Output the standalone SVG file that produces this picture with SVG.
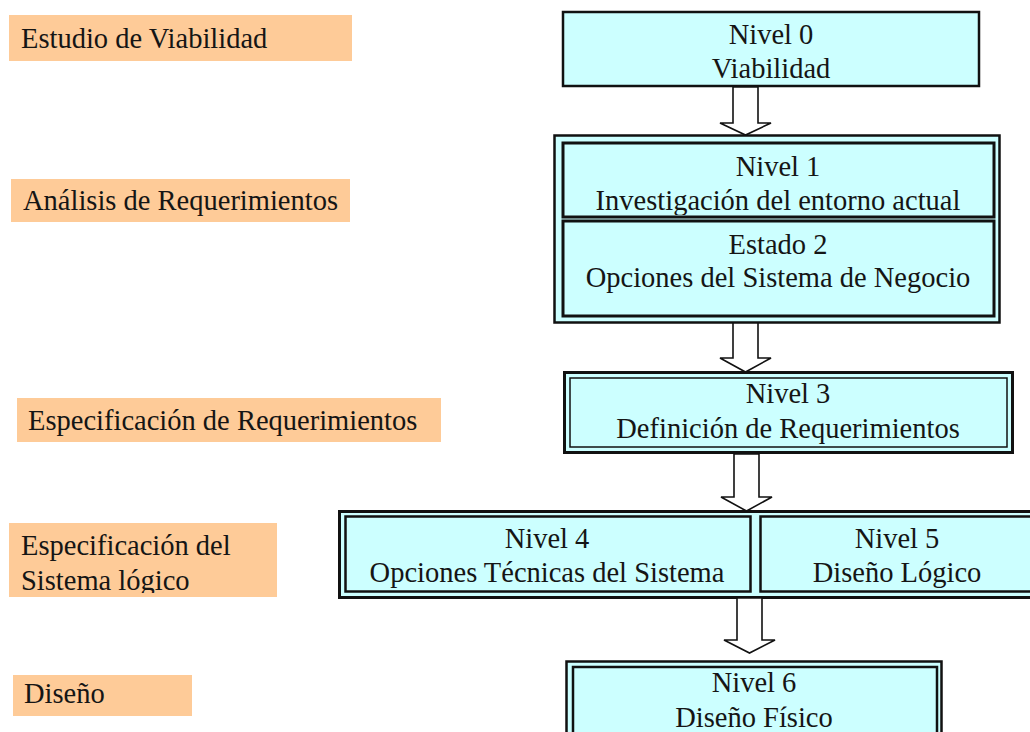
<svg xmlns="http://www.w3.org/2000/svg" width="1030" height="732" viewBox="0 0 1030 732">
<style>
.lbl{fill:#FECB98}
.t{font-family:"Liberation Serif","Times New Roman",serif;font-size:28.5px;fill:#151515}
.c{text-anchor:middle}
.box{fill:#CCFFFF;stroke:#111}
.arr{fill:#fff;stroke:#111;stroke-width:1.6;stroke-linejoin:miter}
</style>
<defs>
<clipPath id="clipInv"><rect x="562" y="143" width="432" height="72"/></clipPath>
<clipPath id="clipSis"><rect x="9" y="523" width="268" height="70"/></clipPath>
</defs>
<rect width="1030" height="732" fill="#fff"/>

<g id="lbl-estudio"><rect class="lbl" x="9" y="15" width="343" height="46"/><text class="t" x="21" y="48">Estudio de Viabilidad</text></g>
<g id="lbl-analisis"><rect class="lbl" x="11" y="179" width="339" height="43"/><text class="t" x="23" y="210">Análisis de Requerimientos</text></g>
<g id="lbl-espreq"><rect class="lbl" x="17" y="398" width="424" height="44"/><text class="t" x="28" y="430">Especificación de Requerimientos</text></g>
<g id="lbl-espsis"><rect class="lbl" x="9" y="523" width="268" height="74"/><text class="t" x="21" y="555">Especificación del</text><text class="t" x="21" y="590" clip-path="url(#clipSis)">Sistema lógico</text></g>
<g id="lbl-diseno"><rect class="lbl" x="13" y="675" width="179" height="41"/><text class="t" x="24" y="703">Diseño</text></g>

<g id="nivel0"><rect class="box" x="563" y="12" width="416" height="74" stroke-width="2.5"/><text class="t c" x="771" y="44">Nivel 0</text><text class="t c" x="771" y="78">Viabilidad</text></g>

<g id="nivel1-2">
<rect class="box" x="554.5" y="135.5" width="445" height="187" stroke-width="2.5"/>
<rect class="box" x="563" y="143" width="431" height="74" stroke-width="3"/>
<text class="t c" x="778" y="176">Nivel 1</text>
<text class="t c" x="778" y="210" clip-path="url(#clipInv)">Investigación del entorno actual</text>
<rect class="box" x="563" y="221" width="431" height="95" stroke-width="3"/>
<text class="t c" x="778" y="254">Estado 2</text>
<text class="t c" x="778" y="287">Opciones del Sistema de Negocio</text>
</g>

<g id="nivel3">
<rect class="box" x="564.5" y="372.5" width="448" height="80" stroke-width="3"/>
<rect class="box" x="570" y="378" width="437" height="69" stroke-width="1.5"/>
<text class="t c" x="788" y="403">Nivel 3</text>
<text class="t c" x="788" y="438">Definición de Requerimientos</text>
</g>

<g id="nivel4-5">
<rect class="box" x="339.5" y="511.5" width="700" height="86" stroke-width="3"/>
<rect class="box" x="345.5" y="516.5" width="405" height="75" stroke-width="2.5"/>
<text class="t c" x="547" y="548">Nivel 4</text>
<text class="t c" x="547" y="582">Opciones Técnicas del Sistema</text>
<rect class="box" x="760.5" y="516.5" width="280" height="75" stroke-width="2.5"/>
<text class="t c" x="897" y="548">Nivel 5</text>
<text class="t c" x="897" y="582">Diseño Lógico</text>
</g>

<g id="nivel6">
<rect class="box" x="566.5" y="661.5" width="375" height="80" stroke-width="2.5"/>
<rect class="box" x="573" y="667" width="364" height="80" stroke-width="2.5"/>
<text class="t c" x="754" y="692">Nivel 6</text>
<text class="t c" x="754" y="727">Diseño Físico</text>
</g>

<g id="connectors">
<polygon class="arr" points="733,87 758,87 758,123 771,123 745.5,135 720,123 733,123"/>
<polygon class="arr" points="733,323 758,323 758,358 771,358 745.5,372 720,358 733,358"/>
<polygon class="arr" points="734,454 759,454 759,497 772,497 746.5,511 721,497 734,497"/>
<polygon class="arr" points="737,598 762,598 762,640 775,640 749.5,653 724,640 737,640"/>
</g>
</svg>
